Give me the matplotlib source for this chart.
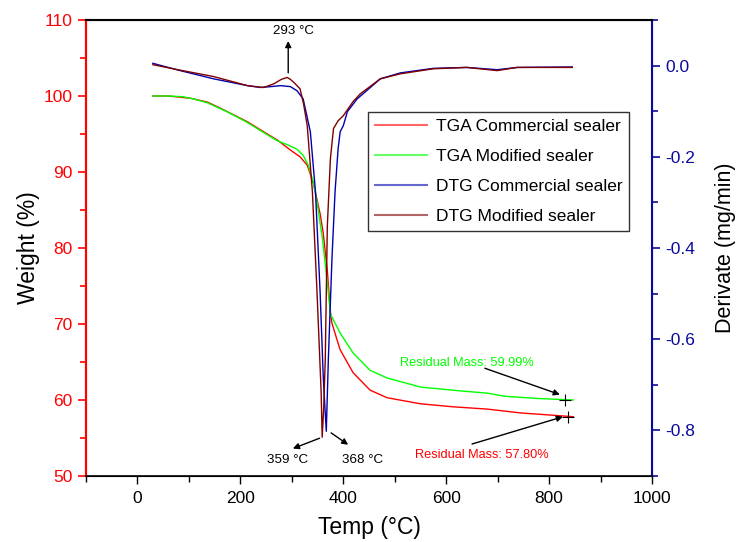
import matplotlib
matplotlib.use("Agg")
import matplotlib.pyplot as plt
from matplotlib.ticker import MultipleLocator

plt.rcParams['font.family'] = ['Liberation Sans', 'DejaVu Sans']

# TGA curves (weight %)
t_tga_com = [30, 60, 103, 136, 167, 214, 245, 272, 297, 316, 330, 342, 355, 361, 369, 375, 378,
             388, 394, 419, 452, 485, 550, 614, 680, 744, 847]
w_tga_com = [100.0, 100.0, 99.7, 99.2, 98.2, 96.6, 95.3, 94.2, 92.9, 92.0, 90.9, 88.5, 84.5, 82.0,
             77.0, 71.6, 70.1, 67.9, 66.6, 63.6, 61.3, 60.3, 59.5, 59.1, 58.8, 58.3, 57.8]

t_tga_mod = [30, 60, 89, 110, 136, 175, 214, 245, 272, 291, 310, 322, 332, 342, 349, 359, 369,
             375, 394, 419, 452, 485, 550, 627, 680, 713, 777, 847]
w_tga_mod = [100.0, 100.0, 99.9, 99.6, 99.1, 97.9, 96.5, 95.2, 94.1, 93.6, 93.0, 92.2, 90.9, 88.6,
             86.0, 81.5, 75.5, 71.3, 68.8, 66.2, 63.9, 62.9, 61.7, 61.2, 60.9, 60.5, 60.2, 60.0]

# DTG curves (mg/min)
t_dtg_com = [30, 83, 148, 214, 239, 260, 278, 297, 310, 322, 336, 346, 355, 361, 367, 371, 378,
             384, 390, 394, 400, 408, 427, 472, 511, 575, 640, 699, 738, 845]
d_dtg_com = [0.005, -0.011, -0.029, -0.044, -0.048, -0.046, -0.044, -0.046, -0.055, -0.073, -0.145,
             -0.277, -0.497, -0.681, -0.802, -0.644, -0.424, -0.277, -0.182, -0.145, -0.132, -0.101,
             -0.073, -0.029, -0.016, -0.006, -0.004, -0.009, -0.004, -0.003]

t_dtg_mod = [30, 83, 148, 214, 245, 265, 280, 291, 297, 305, 316, 323, 330, 340, 349, 357, 359,
             362, 365, 369, 375, 381, 390, 400, 419, 433, 472, 511, 575, 640, 699, 738, 845]
d_dtg_mod = [0.002, -0.010, -0.024, -0.044, -0.048, -0.040, -0.030, -0.026, -0.030, -0.038, -0.051,
             -0.085, -0.132, -0.277, -0.497, -0.716, -0.815, -0.750, -0.644, -0.352, -0.204, -0.138,
             -0.121, -0.110, -0.079, -0.062, -0.029, -0.018, -0.007, -0.004, -0.011, -0.004, -0.004]

residual_com = (837, 57.80)
residual_mod = (831, 59.99)
peak_small = 293
peak_mod = (359, -0.815)
peak_com = (367, -0.802)

fig = plt.figure(figsize=(7.4, 5.42), dpi=100)
ax = fig.add_axes([0.1162, 0.1218, 0.7649, 0.8413])
ax2 = ax.twinx()

l1, = ax.plot(t_tga_com, w_tga_com, color='#ff0000', lw=1.0, label='TGA Commercial sealer')
l2, = ax.plot(t_tga_mod, w_tga_mod, color='#00ff00', lw=1.0, label='TGA Modified sealer')
l3, = ax2.plot(t_dtg_com, d_dtg_com, color='#0000b0', lw=1.0, label='DTG Commercial sealer')
l4, = ax2.plot(t_dtg_mod, d_dtg_mod, color='#800000', lw=1.0, label='DTG Modified sealer')

ax.set_xlim(-100, 1000)
ax.set_ylim(50, 110)
ax2.set_ylim(-0.9, 0.1)

ax.xaxis.set_major_locator(MultipleLocator(200))
ax.xaxis.set_minor_locator(MultipleLocator(100))
ax.yaxis.set_major_locator(MultipleLocator(10))
ax.yaxis.set_minor_locator(MultipleLocator(5))
ax2.yaxis.set_major_locator(MultipleLocator(0.2))
ax2.yaxis.set_minor_locator(MultipleLocator(0.1))
ax2.yaxis.set_major_formatter(plt.FuncFormatter(lambda v, p: f"{v:.1f}".replace("-0.0", "0.0")))

red = '#ff0000'
navy = '#0a0a9a'
ax.tick_params(axis='x', which='major', direction='out', length=6, width=1, labelsize=12.5, pad=5)
ax.tick_params(axis='x', which='minor', direction='out', length=4, width=1)
ax.tick_params(axis='y', which='major', direction='out', length=6, width=1.2, colors=red, labelsize=12.5)
ax.tick_params(axis='y', which='minor', direction='out', length=4, width=1.2, colors=red)
ax2.tick_params(axis='y', which='major', direction='out', length=6, width=1.2, colors=navy, labelsize=12.5)
ax2.tick_params(axis='y', which='minor', direction='out', length=4, width=1.2, colors=navy)

ax2.spines['left'].set_color(red)
ax2.spines['left'].set_linewidth(1.5)
ax2.spines['right'].set_color(navy)
ax2.spines['right'].set_linewidth(1.5)
ax2.spines['top'].set_linewidth(1.5)
ax2.spines['bottom'].set_linewidth(1.2)
ax.spines['left'].set_color(red)
ax.spines['left'].set_linewidth(1.5)

ax.set_xlabel('Temp (°C)', fontsize=16.5, labelpad=7)
ax.set_ylabel('Weight (%)', fontsize=16.5, labelpad=3)
ax2.set_ylabel('Derivate (mg/min)', fontsize=15.5, labelpad=14)

# annotations on the DTG axis
arrow = dict(arrowstyle='-|>', color='black', lw=1.0, mutation_scale=9)
ax2.annotate('', xy=(peak_small, 0.06), xytext=(peak_small, -0.022), arrowprops=arrow)
ax2.text(peak_small + 10, 0.075, '293 °C', fontsize=9.6, ha='center', va='center')
ax2.annotate('', xy=(297, -0.842), xytext=peak_mod, arrowprops=arrow)
ax2.text(291, -0.864, '359 °C', fontsize=9.6, ha='center', va='center')
ax2.annotate('', xy=(414, -0.835), xytext=(peak_com[0] + 5, peak_com[1]), arrowprops=arrow)
ax2.text(437, -0.864, '368 °C', fontsize=9.6, ha='center', va='center')

# residual mass markers
ax.plot(*residual_mod, marker='+', color='black', ms=9, mew=0.8)
ax.plot(*residual_com, marker='+', color='black', ms=9, mew=0.8)
ax.annotate('', xy=(residual_mod[0] - 5, residual_mod[1] + 0.6), xytext=(670, 64.3), arrowprops=arrow)
ax.text(641, 64.9, 'Residual Mass: 59.99%', fontsize=9.2, color='#00ff00', ha='center', va='center')
ax.annotate('', xy=(residual_com[0] - 5, residual_com[1] + 0.1), xytext=(645, 54.1), arrowprops=arrow)
ax.text(670, 52.7, 'Residual Mass: 57.80%', fontsize=9.2, color='#ff0000', ha='center', va='center')

leg = ax2.legend(handles=[l1, l2, l3, l4], loc='upper left', bbox_to_anchor=(0.498, 0.798),
                 fontsize=12.5, frameon=True, fancybox=False, edgecolor='black',
                 handlelength=3.0, labelspacing=0.85, borderpad=0.4, handletextpad=0.5,
                 borderaxespad=0)
leg.get_frame().set_linewidth(1.0)
for h in leg.get_lines():
    h.set_alpha(0.6)
    h.set_linewidth(1.5)

fig.savefig('out.png', dpi=100)
